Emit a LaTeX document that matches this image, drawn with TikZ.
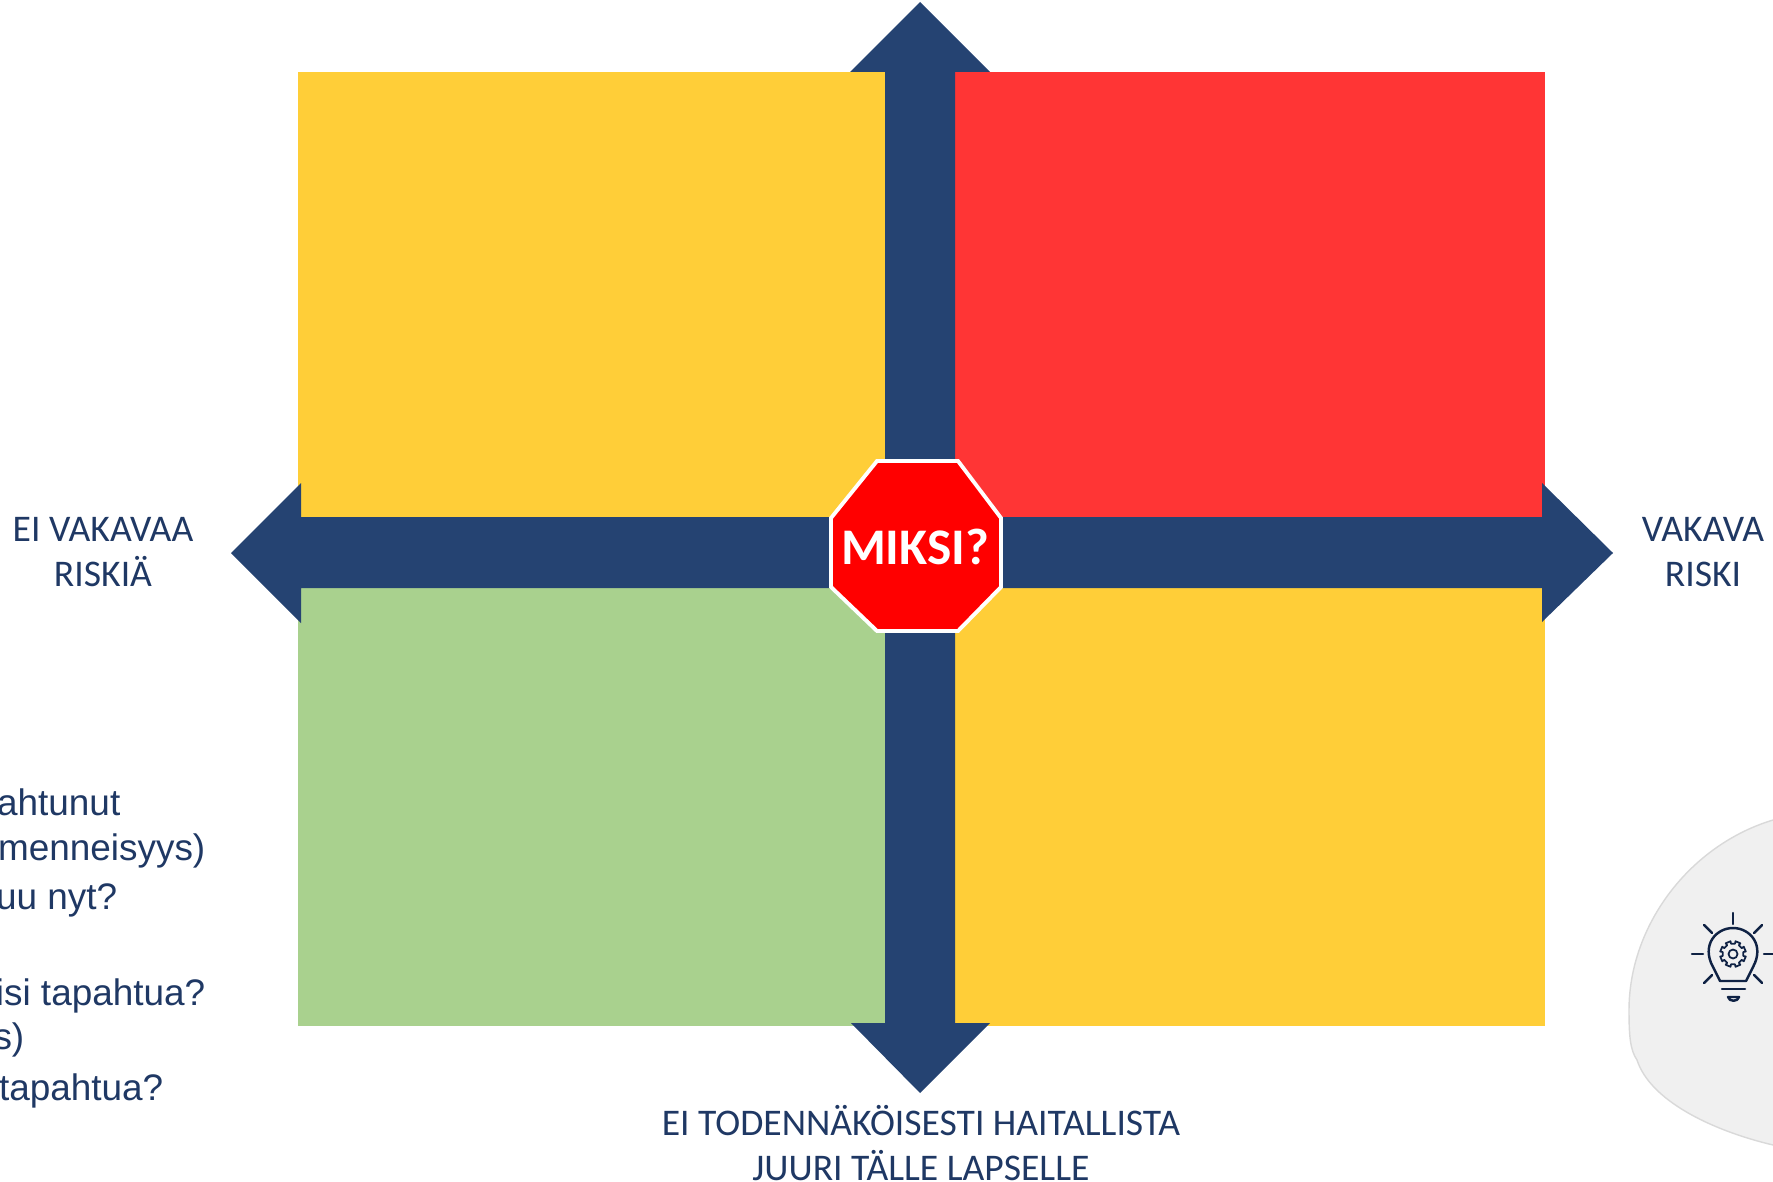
\documentclass[tikz,border=0pt]{standalone}
\usepackage{fontspec}
\setmainfont{Liberation Sans}
\newfontfamily\labelfont{Carlito}
\definecolor{arrowblue}{HTML}{254372}
\definecolor{textblue}{HTML}{1F3864}
\definecolor{quadyellow}{HTML}{FFCE38}
\definecolor{quadred}{HTML}{FF3535}
\definecolor{quadgreen}{HTML}{A9D18E}
\definecolor{blobgray}{HTML}{F0F0F0}
\definecolor{blobline}{HTML}{D9D9D9}
\definecolor{bulbblue}{HTML}{0F2244}
\tikzset{
  axislabel/.style={align=center, text=textblue, font=\labelfont\fontsize{10.7}{12.8}\selectfont, inner sep=0pt},
  sidetext/.style={anchor=base east, text=textblue, font=\fontsize{10.5}{12}\selectfont, inner sep=0pt},
  bulbline/.style={bulbblue, line width=0.7pt, line cap=round, line join=round},
  gearline/.style={bulbblue, line width=0.5pt, line join=round}
}
\begin{document}
\begin{tikzpicture}[x=0.01cm, y=-0.01cm]
\useasboundingbox (0,0) rectangle (1773,1182);

\fill[blobgray] (1773,820) .. controls (1690,845) and (1629,925) .. (1629,1010) .. controls (1629,1035) and (1630,1050) .. (1637,1060) .. controls (1650,1100) and (1710,1130) .. (1773,1145) -- cycle;
\draw[blobline, line width=0.4pt] (1773,820) .. controls (1690,845) and (1629,925) .. (1629,1010) .. controls (1629,1035) and (1630,1050) .. (1637,1060) .. controls (1650,1100) and (1710,1130) .. (1773,1145);

\fill[quadyellow] (298,72) rectangle (885,517);
\fill[quadred] (955,72) rectangle (1545,517);
\fill[quadgreen] (298,588) rectangle (885,1026);
\fill[quadyellow] (955,588) rectangle (1545,1026);

\fill[arrowblue] (920,2) -- (990,72) -- (955,72) -- (955,517) -- (1542,517) -- (1542,483) -- (1613,553) -- (1542,622) -- (1542,588) -- (955,588) -- (955,1023) -- (990,1023) -- (920,1093) -- (851,1023) -- (885,1023) -- (885,588) -- (301,588) -- (301,623) -- (231,553) -- (301,483) -- (301,517) -- (885,517) -- (885,72) -- (850,72) -- cycle;

\draw[white, line width=1.1pt, fill=red] (877,461) -- (958,461) -- (1001,518) -- (1001,587) -- (958,631) -- (877,631) -- (831,587) -- (831,518) -- cycle;
\node (miksi) at (915,547) [text=white, inner sep=0pt, font=\labelfont\bfseries\fontsize{14.6}{18}\selectfont] {MIKSI?};

\node (norisk) at (103,552) [axislabel] {EI VAKAVAA\\RISKIÄ};
\node (risk) at (1703,552) [axislabel] {VAKAVA\\RISKI};
\node (nonharm) at (921,1143) [axislabel] {EI TODENNÄKÖISESTI HAITALLISTA\\JUURI TÄLLE LAPSELLE};

\node (past) at (121,815) [sidetext] {ahtunut};
\node (pastnote) at (206,860) [sidetext] {menneisyys)};
\node (now) at (118,909) [sidetext] {uu nyt?};
\node (future) at (206,1005) [sidetext] {isi tapahtua?};
\node (futurenote) at (25,1049) [sidetext] {s)};
\node (wish) at (164,1100) [sidetext] {tapahtua?};

\draw[bulbline] (1720,981) -- (1746,981) -- (1753,967) .. controls (1765,945) and (1750,928) .. (1733,928) .. controls (1716,928) and (1701,945) .. (1713,967) -- cycle;
\draw[bulbline] (1722,989) -- (1745,989);
\draw[bulbline] (1728,997) -- (1739,997) .. controls (1738,1002) and (1729,1002) .. (1728,997) -- cycle;
\draw[bulbline] (1733,913) -- (1733,924);
\draw[bulbline] (1692,954) -- (1703,954);
\draw[bulbline] (1764,954) -- (1773,954);
\draw[bulbline] (1704,925) -- (1712,933);
\draw[bulbline] (1762,925) -- (1754,933);
\draw[bulbline] (1704,983) -- (1712,975);
\draw[bulbline] (1762,983) -- (1754,975);
\draw[gearline] (1733,954) circle (4.5);
\draw[gearline] (1733,954) ++(11:10.5)
  \foreach \a in {0,45,...,315} {
    -- ({1733+13*cos(\a+11)},{954+13*sin(\a+11)})
    -- ({1733+13*cos(\a+34)},{954+13*sin(\a+34)})
    -- ({1733+10.5*cos(\a+34)},{954+10.5*sin(\a+34)})
    -- ({1733+10.5*cos(\a+56)},{954+10.5*sin(\a+56)})
  } -- cycle;
\end{tikzpicture}
\end{document}
